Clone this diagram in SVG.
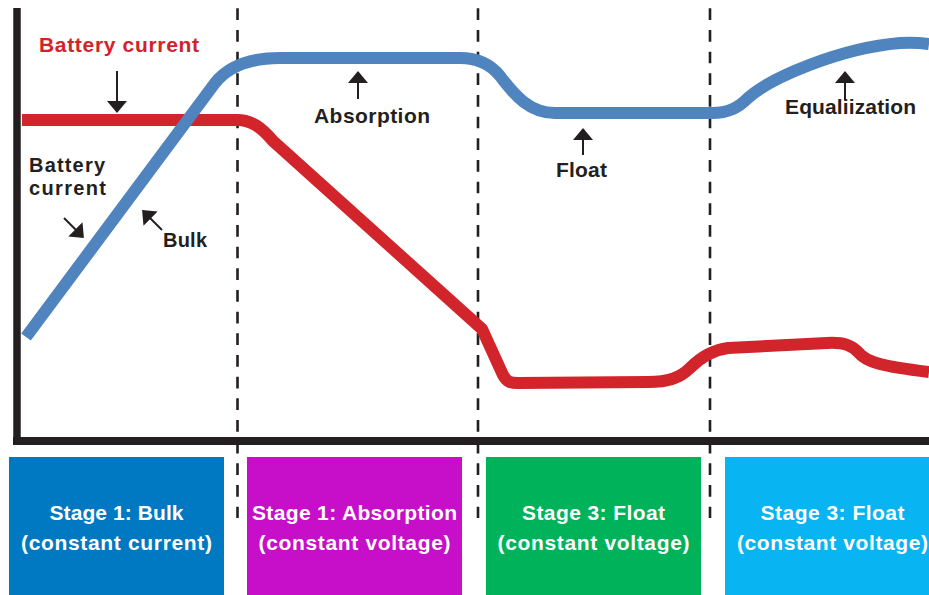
<svg xmlns="http://www.w3.org/2000/svg" width="929" height="595" viewBox="0 0 929 595">
<style>
.lbl{font-family:"Liberation Sans",Arial,sans-serif;font-weight:700;fill:#231F20;font-size:20px}
.red{fill:#D2232A}
.box{font-family:"Liberation Sans",Arial,sans-serif;font-weight:700;fill:#FFFFFF;font-size:21px}
.dash{stroke:#231F20;stroke-width:2.6;stroke-dasharray:11.7 9.97;fill:none}
.arr{stroke:#231F20;stroke-width:2;fill:none;marker-end:url(#ah)}
.curve{fill:none;stroke-width:12;stroke-linejoin:round}
</style>
<defs>
<marker id="ah" viewBox="0 0 12 20" refX="10" refY="10" markerWidth="12" markerHeight="20" markerUnits="userSpaceOnUse" orient="auto">
<path d="M0,0 L12,10 L0,20 z" fill="#231F20"/>
</marker>
</defs>
<rect width="929" height="595" fill="#FFFFFF"/>
<g id="stage-boxes">
<g id="stage1-bulk"><rect x="9" y="457" width="215" height="138" fill="#0079C2"/>
<text class="box" x="116.5" y="520" text-anchor="middle" textLength="134">Stage 1: Bulk</text>
<text class="box" x="116.5" y="550" text-anchor="middle" textLength="191">(constant current)</text></g>
<g id="stage1-absorption"><rect x="247" y="457" width="215" height="138" fill="#C70FC9"/>
<text class="box" x="354.5" y="520" text-anchor="middle" textLength="205">Stage 1: Absorption</text>
<text class="box" x="354.5" y="550" text-anchor="middle" textLength="192">(constant voltage)</text></g>
<g id="stage3-float"><rect x="486" y="457" width="215" height="138" fill="#00B259"/>
<text class="box" x="593.5" y="520" text-anchor="middle" textLength="143">Stage 3: Float</text>
<text class="box" x="593.5" y="550" text-anchor="middle" textLength="192">(constant voltage)</text></g>
<g id="stage3-float-2"><rect x="725" y="457" width="215" height="138" fill="#08B4F2"/>
<text class="box" x="832.5" y="520" text-anchor="middle" textLength="144">Stage 3: Float</text>
<text class="box" x="832.5" y="550" text-anchor="middle" textLength="191">(constant voltage)</text></g>
</g>
<g id="dividers">
<line class="dash" x1="237.5" y1="8.3" x2="237.5" y2="518"/>
<line class="dash" x1="478" y1="8.3" x2="478" y2="518"/>
<line class="dash" x1="710" y1="8.3" x2="710" y2="518"/>
</g>
<g id="axes">
<line x1="17" y1="8" x2="17" y2="445" stroke="#231F20" stroke-width="7.5"/>
<line x1="13" y1="441" x2="929" y2="441" stroke="#231F20" stroke-width="8"/>
</g>
<g id="curves">
<path id="current-curve" class="curve" stroke="#D2242B" d="M22 120 L237 120 C252 120 262 128 273 141 L482 329 L503 375 C507 382 510 383 518 383 L648 382 C668 382 680 378 690 368 C700 358 712 350 728 348 L827 343 C845 342 852 346 858 352 C866 362 880 366 929 372"/>
<path id="voltage-curve" class="curve" stroke="#4F84BF" stroke-linejoin="round" d="M26 337 L215 83 C230 64 255 58 280 58 L460 58 C480 58 492 66 500 76 C515 96 530 113 555 113 L712 113 C728 113 738 108 748 98 C770 78 840 48 900 43 C915 42 922 43 929 44"/>
</g>
<g id="label-battery-current-red"><text class="lbl red" x="39" y="52" font-size="21" style="font-size:21px" textLength="160">Battery current</text></g>
<g id="label-battery-current"><text class="lbl" x="29" y="172" textLength="76">Battery</text><text class="lbl" x="29" y="195" textLength="77">current</text></g>
<g id="label-bulk"><text class="lbl" x="163" y="247" textLength="44">Bulk</text></g>
<g id="label-absorption"><text class="lbl" x="314" y="122.5" style="font-size:21px" textLength="116">Absorption</text></g>
<g id="label-float"><text class="lbl" x="556" y="177" style="font-size:21px" textLength="51">Float</text></g>
<g id="label-equalization"><text class="lbl" x="785" y="114" style="font-size:21px" textLength="131">Equaliization</text></g>
<g id="connectors">
<line class="arr" x1="117" y1="71" x2="117" y2="111"/>
<line class="arr" x1="358" y1="99" x2="358" y2="73"/>
<line class="arr" x1="583" y1="155" x2="583" y2="130"/>
<line class="arr" x1="845" y1="100" x2="845" y2="73"/>
<line class="arr" x1="64" y1="218" x2="82.5" y2="236.5"/>
<line class="arr" x1="162" y1="230" x2="143.5" y2="211.5"/>
</g>
</svg>
